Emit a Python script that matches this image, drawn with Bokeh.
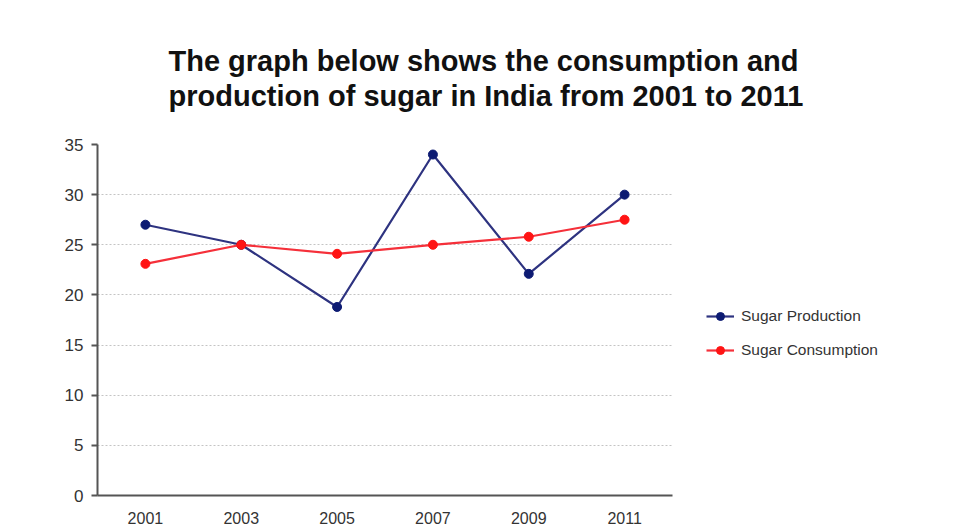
from bokeh.plotting import figure
from bokeh.models import Title, Legend, LegendItem, FactorRange, Range1d, FixedTicker
from bokeh.embed import file_html
from bokeh.resources import INLINE

years = ["2001", "2003", "2005", "2007", "2009", "2011"]
production = [27.0, 25.0, 18.8, 34.0, 22.1, 30.0]
consumption = [23.1, 25.0, 24.1, 25.0, 25.8, 27.5]
y_ticks = [0, 5, 10, 15, 20, 25, 30, 35]
title_lines = ["The graph below shows the consumption and",
               "production of sugar in India from 2001 to 2011"]

FONT = "Liberation Sans"

p = figure(frame_width=575, frame_height=351, output_backend="svg", toolbar_location=None,
           x_range=FactorRange(*years, range_padding=0), y_range=Range1d(0, 35),
           min_border_left=97, min_border_right=303, min_border_top=144,
           min_border_bottom=31)
p.outline_line_color = None
p.background_fill_color = "white"

prod_line_col = "#2e3380"
prod_dot_col = "#0d1b73"
cons_line_col = "#f5303a"
cons_dot_col = "#ff1414"

r1 = p.line(years, production, line_color=prod_line_col, line_width=2.2)
r2 = p.scatter(years, production, size=9, fill_color=prod_dot_col, line_color=prod_dot_col)
r3 = p.line(years, consumption, line_color=cons_line_col, line_width=2.2)
r4 = p.scatter(years, consumption, size=9, fill_color=cons_dot_col, line_color=cons_dot_col)

legend = Legend(items=[LegendItem(label="Sugar Production", renderers=[r1, r2]),
                       LegendItem(label="Sugar Consumption", renderers=[r3, r4])],
                location=(34, 135), orientation="vertical",
                border_line_color=None, background_fill_alpha=0,
                padding=0, margin=0, spacing=14, glyph_width=28, glyph_height=20,
                label_height=20, label_standoff=7,
                label_text_font=FONT, label_text_font_size="15.5px",
                label_text_color="#333333")
p.add_layout(legend, "right")

# grid
p.xgrid.grid_line_color = None
p.ygrid.ticker = FixedTicker(ticks=y_ticks)
p.ygrid.grid_line_color = "#c4c4c4"
p.ygrid.grid_line_dash = "2 2"
p.ygrid.grid_line_width = 1

# axes
p.yaxis.ticker = FixedTicker(ticks=y_ticks)
p.yaxis.axis_line_color = "#555555"
p.yaxis.axis_line_width = 2
p.yaxis.major_tick_line_color = "#555555"
p.yaxis.major_tick_line_width = 2
p.yaxis.major_tick_out = 6
p.yaxis.major_tick_in = 0
p.yaxis.minor_tick_line_color = None
p.yaxis.major_label_text_font = FONT
p.yaxis.major_label_text_font_size = "17px"
p.yaxis.major_label_text_color = "#333333"
p.yaxis.major_label_standoff = 8

p.xaxis.axis_line_color = "#555555"
p.xaxis.axis_line_width = 2
p.xaxis.major_tick_line_color = None
p.xaxis.minor_tick_line_color = None
p.xaxis.major_label_text_font = FONT
p.xaxis.major_label_text_font_size = "16px"
p.xaxis.major_label_text_color = "#333333"
p.xaxis.major_label_standoff = 10

p.add_layout(Title(text="\n".join(title_lines), align="left", offset=71, standoff=65,
                   text_font=FONT, text_font_style="bold", text_font_size="29px",
                   text_line_height=1.1, text_color="#111111"), "above")

open("out.html", "w").write(file_html(p, INLINE))
